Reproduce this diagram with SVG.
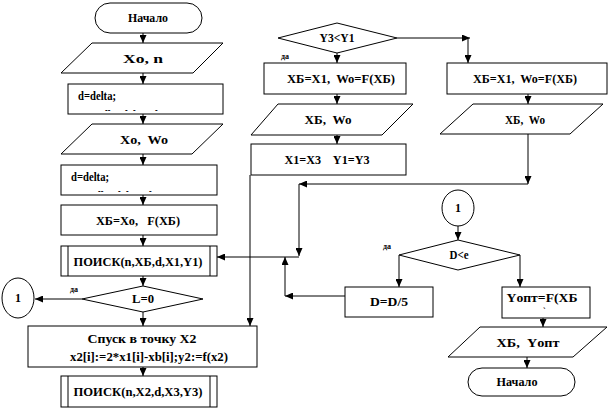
<svg xmlns="http://www.w3.org/2000/svg" width="612" height="411" viewBox="0 0 612 411" xml:space="preserve">
<defs>
<marker id="ah" markerWidth="8" markerHeight="7" refX="8" refY="3.5" orient="auto" markerUnits="userSpaceOnUse">
<path d="M0,0 L8,3.5 L0,7 z" fill="#000"/>
</marker>
</defs>
<style>
.s{fill:#fff;stroke:#000;stroke-width:1}
.t{font-family:'Liberation Serif','Times New Roman',serif;font-weight:bold;font-size:12px;fill:#000;text-anchor:middle;white-space:pre}
.l{font-family:'Liberation Serif','Times New Roman',serif;font-weight:bold;font-size:12px;fill:#000;white-space:pre}
.d{font-family:'Liberation Serif','Times New Roman',serif;font-weight:bold;font-size:8px;fill:#000;white-space:pre}
.m{font-family:'Liberation Sans',Arial,sans-serif;font-weight:bold;font-size:8px;fill:#000;white-space:pre}
.c{fill:none;stroke:#000;stroke-width:1}
.a{fill:none;stroke:#000;stroke-width:1;marker-end:url(#ah)}
</style>
<rect width="612" height="411" fill="#fff"/>

<g id="connectors">
<line class="a" x1="143" y1="33" x2="143" y2="43"/>
<line class="a" x1="143" y1="73" x2="143" y2="84"/>
<line class="a" x1="143" y1="114" x2="143" y2="124"/>
<line class="a" x1="143" y1="154" x2="143" y2="165"/>
<line class="a" x1="143" y1="195" x2="143" y2="205"/>
<line class="a" x1="143" y1="235" x2="143" y2="246"/>
<line class="a" x1="143" y1="276" x2="143" y2="286"/>
<line class="a" x1="143" y1="312" x2="143" y2="326"/>
<line class="a" x1="143" y1="367" x2="143" y2="376"/>
<line class="a" x1="82" y1="299" x2="35" y2="299"/>
<line class="a" x1="337" y1="53" x2="337" y2="63"/>
<line class="a" x1="337" y1="94" x2="337" y2="104"/>
<line class="a" x1="337" y1="135" x2="337" y2="144"/>
<line class="a" x1="397" y1="38" x2="470" y2="38"/>
<line class="a" x1="468" y1="38" x2="468" y2="63"/>
<line class="a" x1="528" y1="94" x2="528" y2="104"/>
<line class="a" x1="528" y1="134" x2="528" y2="184"/>
<line class="a" x1="528" y1="184" x2="299" y2="184"/>
<line class="a" x1="299" y1="184" x2="299" y2="256"/>
<line class="a" x1="299" y1="257" x2="217" y2="257"/>
<line class="a" x1="250" y1="175" x2="250" y2="326"/>
<line class="a" x1="458" y1="226" x2="458" y2="240"/>
<line class="a" x1="399" y1="255" x2="399" y2="287"/>
<line class="a" x1="520" y1="255" x2="520" y2="287"/>
<line class="a" x1="345" y1="296" x2="285" y2="296"/>
<line class="a" x1="285" y1="296" x2="285" y2="257"/>
<line class="a" x1="543" y1="318" x2="543" y2="327"/>
<line class="a" x1="527" y1="357" x2="527" y2="368"/>
</g>

<g id="start">
<rect class="s" x="95" y="3" width="107" height="30" rx="15" ry="15"/>
<text class="t" x="148" y="22" textLength="40" lengthAdjust="spacingAndGlyphs">Начало</text>
</g>
<g id="input1">
<polygon class="s" points="92,43 223,43 193,73 61,73"/>
<text class="t" x="143" y="63" textLength="40" lengthAdjust="spacingAndGlyphs">Xo, n</text>
</g>
<g id="delta1">
<rect class="s" x="68" y="84" width="155" height="30"/>
<text class="l" x="78" y="100" textLength="38" lengthAdjust="spacingAndGlyphs">d=delta;</text>
<text class="m" x="105" y="112">--</text><text class="m" x="125" y="112">-</text><text class="m" x="133" y="112">-</text><text class="m" x="155" y="112">-</text>
</g>
<g id="input2">
<polygon class="s" points="92,124 223,124 192,154 61,154"/>
<text class="t" x="144" y="144" textLength="48" lengthAdjust="spacingAndGlyphs">Xo,  Wo</text>
</g>
<g id="delta2">
<rect class="s" x="61" y="165" width="156" height="30"/>
<text class="l" x="71" y="181" textLength="38" lengthAdjust="spacingAndGlyphs">d=delta;</text>
<text class="m" x="98" y="193">--</text><text class="m" x="118" y="193">-</text><text class="m" x="126" y="193">-</text><text class="m" x="149" y="193">-</text>
</g>
<g id="xb">
<rect class="s" x="61" y="205" width="156" height="30"/>
<text class="t" x="138" y="225" textLength="84" lengthAdjust="spacingAndGlyphs">XБ=Xo,   F(XБ)</text>
</g>
<g id="search1">
<rect class="s" x="61" y="246" width="156" height="30"/>
<line class="c" x1="68" y1="246" x2="68" y2="276"/>
<line class="c" x1="210" y1="246" x2="210" y2="276"/>
<text class="t" x="138" y="266" textLength="129" lengthAdjust="spacingAndGlyphs">ПОИСК(n,XБ,d,X1,Y1)</text>
</g>
<g id="cond-l">
<polygon class="s" points="82,299 143,286 203,299 143,312"/>
<text class="t" x="143" y="303" textLength="22" lengthAdjust="spacingAndGlyphs">L=0</text>
<text class="d" x="70" y="292">да</text>
</g>
<g id="conn1-left">
<ellipse class="s" cx="18" cy="298" rx="16" ry="20"/>
<text class="t" x="18" y="302">1</text>
</g>
<g id="descent">
<rect class="s" x="28" y="326" width="229" height="41"/>
<text class="t" x="142" y="343" textLength="109" lengthAdjust="spacingAndGlyphs">Спуск в точку X2</text>
<text class="t" x="149" y="361" textLength="158" lengthAdjust="spacingAndGlyphs">x2[i]:=2*x1[i]-xb[i];y2:=f(x2)</text>
</g>
<g id="search2">
<rect class="s" x="61" y="376" width="156" height="31"/>
<line class="c" x1="68" y1="376" x2="68" y2="407"/>
<line class="c" x1="210" y1="376" x2="210" y2="407"/>
<text class="t" x="138" y="396" textLength="129" lengthAdjust="spacingAndGlyphs">ПОИСК(n,X2,d,X3,Y3)</text>
</g>

<g id="cond-y">
<polygon class="s" points="278,38 337,23 397,38 337,53"/>
<text class="t" x="337" y="42" textLength="35" lengthAdjust="spacingAndGlyphs">Y3&lt;Y1</text>
<text class="d" x="281" y="59">да</text>
</g>
<g id="assign-m">
<rect class="s" x="264" y="63" width="142" height="31"/>
<text class="t" x="341" y="83" textLength="108" lengthAdjust="spacingAndGlyphs">XБ=X1,  Wo=F(XБ)</text>
</g>
<g id="out-m">
<polygon class="s" points="278,104 413,104 382,135 251,135"/>
<text class="t" x="328" y="124" textLength="47" lengthAdjust="spacingAndGlyphs">XБ,  Wo</text>
</g>
<g id="swap">
<rect class="s" x="251" y="144" width="155" height="31"/>
<text class="t" x="327" y="164" textLength="85" lengthAdjust="spacingAndGlyphs">X1=X3    Y1=Y3</text>
</g>

<g id="assign-r">
<rect class="s" x="447" y="63" width="160" height="31"/>
<text class="t" x="525" y="83" textLength="104" lengthAdjust="spacingAndGlyphs">XБ=X1,  Wo=F(XБ)</text>
</g>
<g id="out-r">
<polygon class="s" points="473,104 603,104 570,134 440,134"/>
<text class="t" x="525" y="124" textLength="40" lengthAdjust="spacingAndGlyphs">XБ,  Wo</text>
</g>

<g id="conn1-right">
<ellipse class="s" cx="458" cy="208" rx="16" ry="18"/>
<text class="t" x="458" y="212">1</text>
</g>
<g id="cond-d">
<polygon class="s" points="399,255 458,240 520,255 458,270"/>
<text class="t" x="459" y="259" textLength="19" lengthAdjust="spacingAndGlyphs">D&lt;e</text>
<text class="d" x="383" y="249">да</text>
</g>
<g id="reduce">
<rect class="s" x="345" y="287" width="88" height="30"/>
<text class="t" x="389" y="306" textLength="38" lengthAdjust="spacingAndGlyphs">D=D/5</text>
</g>
<g id="yopt">
<rect class="s" x="502" y="287" width="88" height="31"/>
<text class="t" x="542" y="302" textLength="71" lengthAdjust="spacingAndGlyphs">Yопт=F(XБ</text>
<text class="d" x="543" y="314">`</text>
</g>
<g id="out-final">
<polygon class="s" points="480,327 607,327 573,357 448,357"/>
<text class="t" x="528" y="347" textLength="63" lengthAdjust="spacingAndGlyphs">XБ,  Yопт</text>
</g>
<g id="end">
<rect class="s" x="468" y="368" width="107" height="28" rx="14" ry="14"/>
<text class="t" x="517" y="386" textLength="41" lengthAdjust="spacingAndGlyphs">Начало</text>
</g>
</svg>
